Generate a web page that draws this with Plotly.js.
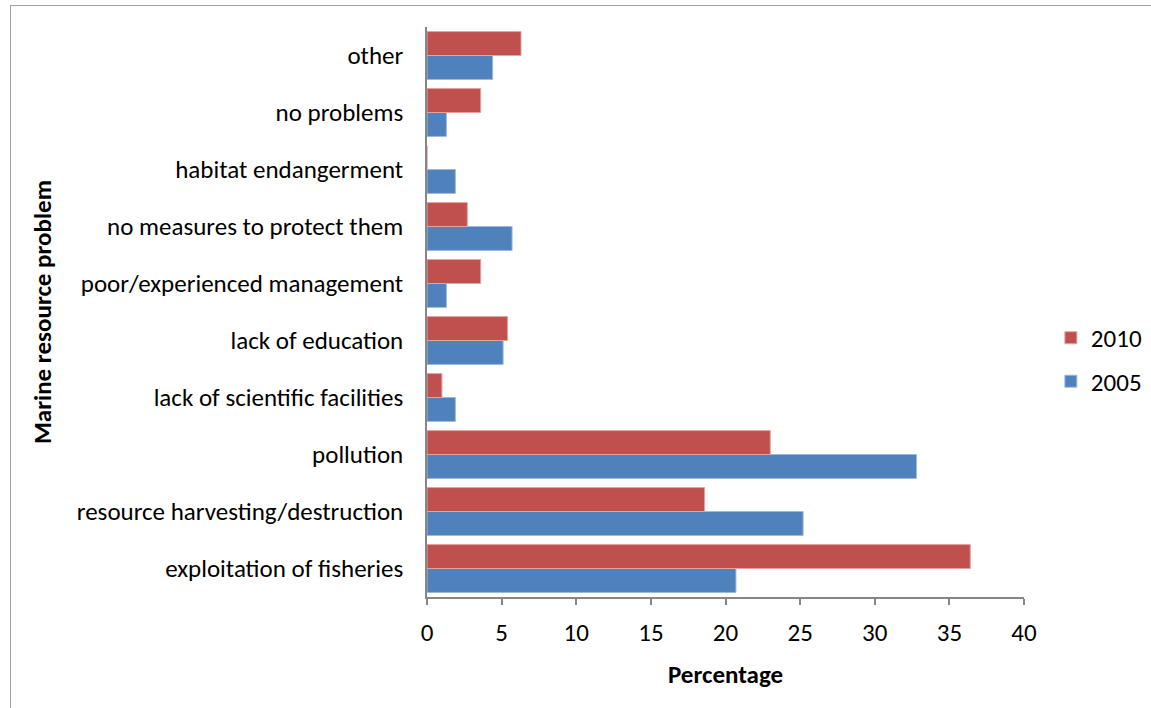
<!DOCTYPE html>
<html>
<head>
<meta charset="utf-8">
<script src="https://cdn.plot.ly/plotly-3.0.1.min.js"></script>
<style>
  html, body { margin: 0; padding: 0; background: #fff; }
  #wrap { position: relative; width: 1151px; height: 708px; overflow: hidden; }
  #chart { width: 1151px; height: 708px; }
  #frame { position: absolute; left: 10px; top: 5px; width: 1200px; height: 760px;
           border: 1px solid #a0a0a0; pointer-events: none; }
</style>
</head>
<body>
<div id="wrap">
  <div id="chart"></div>
  <div id="frame"></div>
</div>
<script>
// Problem categories, listed bottom to top as they appear on the axis
const categories = [
  "exploitation of fisheries",
  "resource harvesting/destruction",
  "pollution",
  "lack of scientific facilities",
  "lack of education",
  "poor/experienced management",
  "no measures to protect them",
  "habitat endangerment",
  "no problems",
  "other"
];

// Share of respondents (%) naming each problem
const values2005 = [20.7, 25.2, 32.8, 1.9, 5.1, 1.3, 5.7, 1.9, 1.3, 4.4];
const values2010 = [36.4, 18.6, 23.0, 1.0, 5.4, 3.6, 2.7, 0, 3.6, 6.3];

const xTicks = [0, 5, 10, 15, 20, 25, 30, 35, 40];

const FONT = "Carlito, Calibri, 'Liberation Sans Narrow', 'Open Sans', sans-serif";
const FS = 25;

const traces = [
  {
    type: "bar", orientation: "h", name: "2005", legendgroup: "g2005", legendrank: 2,
    y: categories, x: values2005,
    marker: { color: "#4F81BD", line: { color: "#9DB9DD", width: 1 } },
    hoverinfo: "x+y+name"
  },
  {
    type: "bar", orientation: "h", name: "2010", legendgroup: "g2010", legendrank: 1,
    y: categories, x: values2010,
    marker: { color: "#C0504D", line: { color: "#E2A3A1", width: 1 } },
    hoverinfo: "x+y+name"
  }
];

const layout = {
  width: 1151, height: 708,
  margin: { l: 427, r: 127, t: 27, b: 111, autoexpand: false },
  paper_bgcolor: "#ffffff", plot_bgcolor: "#ffffff",
  font: { family: FONT, size: FS, color: "#000000" },
  barmode: "group",
  bargap: 0.16, bargroupgap: 0,
  showlegend: true,
  legend: {
    traceorder: "grouped",
    x: 1.045, xanchor: "left", y: 0.4167, yanchor: "middle",
    font: { family: FONT, size: FS },
    itemwidth: 30, tracegroupgap: 8
  },
  xaxis: {
    range: [0, 40], tickvals: xTicks, ticktext: xTicks.map(String),
    showgrid: false, zeroline: false,
    showline: true, linecolor: "#868686", linewidth: 1.5,
    ticks: "outside", ticklen: 6, tickcolor: "#868686", tickwidth: 1.5,
    tickfont: { family: FONT, size: FS },
    ticklabelstandoff: 6,
    title: { text: "<b>Percentage</b>", font: { family: FONT, size: FS }, standoff: 19 },
    fixedrange: true
  },
  yaxis: {
    type: "category", categoryorder: "array", categoryarray: categories,
    showgrid: false, zeroline: false,
    showline: true, linecolor: "#868686", linewidth: 1.5,
    ticks: "", tickfont: { family: FONT, size: FS },
    ticklabelstandoff: 17,
    title: { text: "<b>Marine resource problem</b>", font: { family: FONT, size: FS }, standoff: 18 },
    fixedrange: true
  }
};

Plotly.newPlot("chart", traces, layout, { displayModeBar: false });
</script>
</body>
</html>
